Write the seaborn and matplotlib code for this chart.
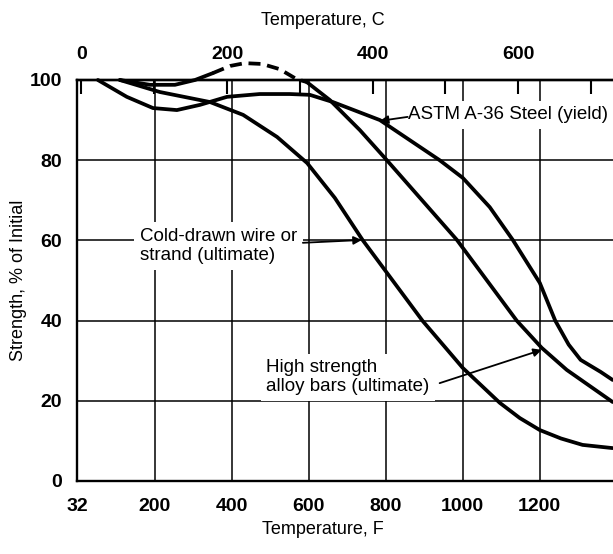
import matplotlib
matplotlib.use("Agg")
import matplotlib.pyplot as plt
import seaborn as sns

# ---- data (temperature in F along the chart's bottom scale, strength in % of initial) ----
yield_F = [53, 128, 196, 258, 318, 388, 473, 551, 603, 663, 785, 940, 1000, 1070, 1130, 1200,
           1240, 1275, 1306, 1358, 1389]
yield_pct = [100, 95.8, 93.0, 92.5, 93.8, 95.8, 96.5, 96.5, 96.3, 94.5, 90.0, 80.0, 75.6, 68.3,
             60.1, 49.4, 40.0, 34.0, 30.2, 27.2, 25.2]

wire_F = [110, 214, 344, 430, 518, 596, 668, 740, 896, 1000, 1096, 1148, 1200, 1255, 1311, 1389]
wire_pct = [100, 97.0, 94.5, 91.3, 85.8, 79.3, 70.6, 60.1, 39.9, 28.2, 19.5, 15.7, 12.7, 10.6,
            9.0, 8.2]

bars_F_a = [110, 188, 253, 305, 351]
bars_pct_a = [100, 98.8, 98.8, 100, 101.7]
bars_F_dash = [351, 396, 434, 479, 525, 569, 595]
bars_pct_dash = [101.7, 103.5, 104.2, 104.0, 102.7, 100.2, 99.5]
bars_F_b = [595, 655, 733, 803, 985, 1140, 1205, 1270, 1389]
bars_pct_b = [99.5, 95.0, 87.5, 80.0, 60.1, 40.0, 33.2, 27.7, 19.7]

f_ticks = [0, 200, 400, 600, 800, 1000, 1200]
f_labels = ["32", "200", "400", "600", "800", "1000", "1200"]
c_ticks = [0, 100, 200, 300, 400, 500, 600, 700]
c_labels = ["0", "", "200", "", "400", "", "600", ""]
y_ticks = [0, 20, 40, 60, 80, 100]

sns.set_theme(style="white")
plt.rcParams["font.family"] = ["Liberation Sans", "DejaVu Sans"]
plt.rcParams.update({"text.color": "black", "axes.labelcolor": "black",
                     "xtick.color": "black", "ytick.color": "black"})

fig = plt.figure(figsize=(6.13, 5.54), dpi=100)
ax = fig.add_axes([0.1264, 0.1318, 0.8736, 0.7238])

lw = 2.7
common = dict(ax=ax, color="black", lw=lw, sort=False, estimator=None, clip_on=False, zorder=5)
sns.lineplot(x=yield_F, y=yield_pct, **common)
sns.lineplot(x=wire_F, y=wire_pct, **common)
sns.lineplot(x=bars_F_a, y=bars_pct_a, **common)
sns.lineplot(x=bars_F_dash, y=bars_pct_dash, linestyle=(0, (3.2, 1.8)), **common)
sns.lineplot(x=bars_F_b, y=bars_pct_b, **common)

ax.set_xlim(0, 1390)
ax.set_ylim(0, 100)
ax.set_xticks(f_ticks)
ax.set_xticklabels(f_labels)
ax.set_yticks(y_ticks)
ax.grid(True, color="black", lw=1.1)
ax.set_axisbelow(True)
ax.tick_params(axis="both", length=0, labelsize=14, labelcolor="black")
ax.tick_params(axis="x", pad=12)
ax.tick_params(axis="y", pad=11)
for lab in ax.get_xticklabels() + ax.get_yticklabels():
    lab.set_fontweight("bold")
for side in ["left", "bottom", "top"]:
    ax.spines[side].set_color("black")
    ax.spines[side].set_linewidth(1.7)
ax.spines["right"].set_visible(False)

ax.set_xlabel("Temperature, F", fontsize=13, color="black")
ax.xaxis.set_label_coords(0.458, -0.1)
ax.set_ylabel("Strength, % of Initial", fontsize=13, color="black")
ax.yaxis.set_label_coords(-0.094, 0.5)

ax2 = ax.twiny()
ax2.set_xlim(-5.4, 730.2)
ax2.set_xticks(c_ticks)
ax2.set_xticklabels(c_labels)
ax2.tick_params(axis="x", direction="in", length=10, width=1.5, color="black",
                labelsize=14, labelcolor="black", pad=12, top=True)
for lab in ax2.get_xticklabels():
    lab.set_fontweight("bold")
ax2.grid(False)
for side in ["left", "bottom", "right"]:
    ax2.spines[side].set_visible(False)
ax2.spines["top"].set_linewidth(1.7)
ax2.spines["top"].set_color("black")
ax2.set_xlabel("Temperature, C", fontsize=13, color="black")
ax2.xaxis.set_label_coords(0.458, 1.138)

box = dict(facecolor="white", edgecolor="none", pad=4)
arrow = dict(arrowstyle="-|>", color="black", lw=1.3, mutation_scale=12, shrinkA=0, shrinkB=0)

ax.text(857, 91.3, "ASTM A-36 Steel (yield)", fontsize=13.5, ha="left", va="center",
        bbox=box, zorder=4)
ax.annotate("", xy=(785, 89.8), xytext=(857, 90.8), arrowprops=arrow, zorder=6)

ax.text(162, 58.6, "Cold-drawn wire or\nstrand (ultimate)", fontsize=13.5, ha="left",
        va="center", linespacing=1.15, bbox=box, zorder=4)
ax.annotate("", xy=(738, 60.1), xytext=(585, 59.4), arrowprops=arrow, zorder=6)

ax.text(490, 25.9, "High strength\nalloy bars (ultimate)", fontsize=13.5, ha="left",
        va="center", linespacing=1.15, bbox=box, zorder=4)
ax.annotate("", xy=(1205, 32.7), xytext=(940, 24.4), arrowprops=arrow, zorder=6)

fig.savefig("out.png", dpi=100)
